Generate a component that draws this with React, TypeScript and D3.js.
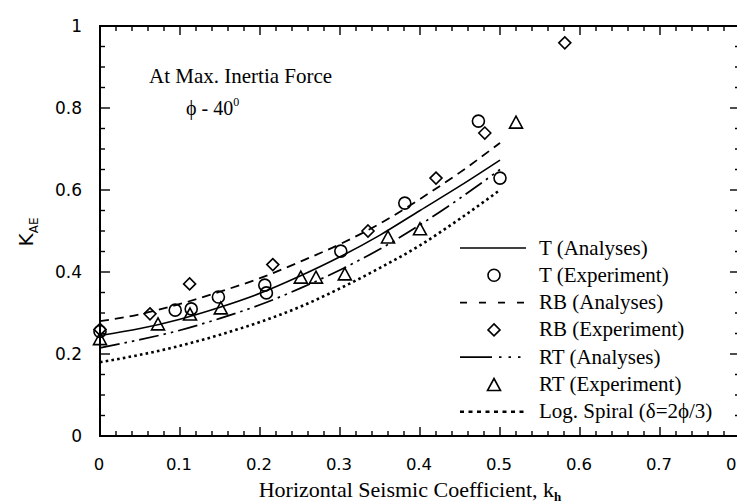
import React from 'react';
import * as d3 from 'd3';

// analysis curves: k_h vs K_AE
const curveKh = [0, 0.05, 0.1, 0.15, 0.2, 0.25, 0.3, 0.35, 0.4, 0.45, 0.5];
const tAnalyses = [0.245, 0.262, 0.285, 0.314, 0.348, 0.39, 0.437, 0.49, 0.55, 0.61, 0.673];
const rbAnalyses = [0.28, 0.297, 0.322, 0.352, 0.385, 0.425, 0.468, 0.518, 0.578, 0.643, 0.715];
const rtAnalyses = [0.215, 0.235, 0.258, 0.287, 0.32, 0.36, 0.405, 0.456, 0.515, 0.58, 0.65];
const logSpiral = [0.18, 0.198, 0.22, 0.247, 0.278, 0.315, 0.36, 0.41, 0.465, 0.53, 0.6];

// experiments
const tExpX = [0, 0.094, 0.114, 0.148, 0.206, 0.208, 0.301, 0.381, 0.473, 0.5];
const tExpY = [0.255, 0.307, 0.31, 0.339, 0.368, 0.349, 0.451, 0.568, 0.768, 0.629];
const rbExpX = [0, 0.0625, 0.112, 0.216, 0.335, 0.42, 0.481, 0.581];
const rbExpY = [0.26, 0.298, 0.371, 0.418, 0.5, 0.629, 0.739, 0.959];
const rtExpX = [0, 0.0725, 0.1125, 0.151, 0.251, 0.27, 0.306, 0.36, 0.4, 0.52];
const rtExpY = [0.235, 0.271, 0.295, 0.31, 0.385, 0.385, 0.393, 0.483, 0.503, 0.763];

const xTicks = [0, 0.1, 0.2, 0.3, 0.4, 0.5, 0.6, 0.7, 0.8];
const yTicks = [0, 0.2, 0.4, 0.6, 0.8, 1];
const legendLabels = [
  'T (Analyses)',
  'T (Experiment)',
  'RB (Analyses)',
  'RB (Experiment)',
  'RT (Analyses)',
  'RT (Experiment)',
  'Log. Spiral  (δ=2ϕ/3)',
];

const serif = '"Liberation Serif", "DejaVu Serif", serif';
const sans = '"DejaVu Sans", "Liberation Sans", sans-serif';

const x = d3.scaleLinear().domain([0, 0.8]).range([92, 732]);
const y = d3.scaleLinear().domain([0, 1]).range([428, 18]);

const curve = d3
  .line<number>()
  .x((_, i) => x(curveKh[i]))
  .y((d) => y(d))
  .curve(d3.curveMonotoneX);

const Circle = ({ cx, cy }: { cx: number; cy: number }) => (
  <circle cx={cx} cy={cy} r={6} fill="none" stroke="#000" strokeWidth={1.6} />
);
const Diamond = ({ cx, cy }: { cx: number; cy: number }) => (
  <path
    d={`M${cx},${cy - 6}L${cx + 6},${cy}L${cx},${cy + 6}L${cx - 6},${cy}Z`}
    fill="none"
    stroke="#000"
    strokeWidth={1.6}
  />
);
const Triangle = ({ cx, cy }: { cx: number; cy: number }) => (
  <path
    d={`M${cx},${cy - 7}L${cx + 6.5},${cy + 5}L${cx - 6.5},${cy + 5}Z`}
    fill="none"
    stroke="#000"
    strokeWidth={1.6}
  />
);

// frame and inward ticks live in their own svg layer
function Frame() {
  const [left, right] = x.range();
  const [bottom, top] = y.range();
  const xMinor = d3.range(0, 41).map((i) => i * 0.02);
  const yMinor = d3.range(0, 21).map((i) => i * 0.05);
  return (
    <svg width={745} height={504} style={{ position: 'absolute', left: 0, top: 0 }}>
      <rect x={left} y={top} width={right - left} height={bottom - top} fill="none" stroke="#000" strokeWidth={2} />
      {xMinor.map((v, i) => {
        const len = i % 5 === 0 ? 9 : 5;
        return (
          <g key={'xt' + i}>
            <line x1={x(v)} x2={x(v)} y1={bottom} y2={bottom - len} stroke="#000" strokeWidth={1.4} />
            <line x1={x(v)} x2={x(v)} y1={top} y2={top + len} stroke="#000" strokeWidth={1.4} />
          </g>
        );
      })}
      {yMinor.map((v, i) => {
        const len = i % 4 === 0 ? 10 : 5;
        return (
          <g key={'yt' + i}>
            <line x1={left} x2={left + len} y1={y(v)} y2={y(v)} stroke="#000" strokeWidth={1.4} />
            <line x1={right} x2={right - len} y1={y(v)} y2={y(v)} stroke="#000" strokeWidth={1.4} />
          </g>
        );
      })}
    </svg>
  );
}

function Plot() {
  const legendTop = 240;
  const legendStep = 27.3;
  const lx0 = 452;
  const lx1 = 518;
  const mx = 486;

  return (
    <svg width={745} height={504} style={{ position: 'absolute', left: 0, top: 0 }}>
      {/* tick labels */}
      {xTicks.map((v) => (
        <text key={'xl' + v} x={x(v) - 1} y={462} textAnchor="middle" fontFamily={sans} fontSize={16.5}>
          {v === 0 ? '0' : d3.format('.1f')(v)}
        </text>
      ))}
      {yTicks.map((v) => (
        <text key={'yl' + v} x={74} y={y(v) + 6} textAnchor="end" fontFamily={sans} fontSize={17}>
          {v === 0 || v === 1 ? String(v) : d3.format('.1f')(v)}
        </text>
      ))}

      {/* axis titles */}
      <text x={402} y={489} textAnchor="middle" fontFamily={serif} fontSize={22}>
        Horizontal Seismic Coefficient, k
        <tspan fontSize={13} dy={4} fontWeight="bold">h</tspan>
      </text>
      <text transform="translate(25,224) rotate(-90)" textAnchor="middle" fontFamily={sans} fontSize={20}>
        K<tspan fontSize={12} dy={5}>AE</tspan>
      </text>

      {/* annotations */}
      <text x={141} y={75} fontFamily={serif} fontSize={21}>At Max. Inertia Force</text>
      <text x={178} y={107} fontFamily={serif} fontSize={20}>
        ϕ - 40<tspan fontSize={12} dy={-9}>0</tspan>
      </text>

      {/* analysis curves */}
      <path d={curve(tAnalyses) || ''} fill="none" stroke="#000" strokeWidth={1.6} />
      <path d={curve(rbAnalyses) || ''} fill="none" stroke="#000" strokeWidth={1.8} strokeDasharray="9,6" />
      <path d={curve(rtAnalyses) || ''} fill="none" stroke="#000" strokeWidth={1.7} strokeDasharray="20,5,2.5,5,2.5,5" />
      <path d={curve(logSpiral) || ''} fill="none" stroke="#000" strokeWidth={2.6} strokeDasharray="2.6,3.2" />

      {/* experiment points */}
      {tExpX.map((v, i) => (
        <Circle key={'c' + i} cx={x(v)} cy={y(tExpY[i])} />
      ))}
      {rbExpX.map((v, i) => (
        <Diamond key={'d' + i} cx={x(v)} cy={y(rbExpY[i])} />
      ))}
      {rtExpX.map((v, i) => (
        <Triangle key={'t' + i} cx={x(v)} cy={y(rtExpY[i])} />
      ))}

      {/* legend */}
      {legendLabels.map((label, i) => {
        const cy = legendTop + i * legendStep;
        let sample: React.ReactNode = null;
        if (i === 0) sample = <line x1={lx0} x2={lx1} y1={cy} y2={cy} stroke="#000" strokeWidth={1.6} />;
        if (i === 1) sample = <Circle cx={mx} cy={cy} />;
        if (i === 2) sample = <line x1={lx0} x2={lx1} y1={cy} y2={cy} stroke="#000" strokeWidth={1.8} strokeDasharray="7,12" />;
        if (i === 3) sample = <Diamond cx={mx} cy={cy} />;
        if (i === 4) sample = <line x1={lx0} x2={lx1} y1={cy} y2={cy} stroke="#000" strokeWidth={1.7} strokeDasharray="32,7,2.5,7,2.5,7,2.5,40" />;
        if (i === 5) sample = <Triangle cx={mx} cy={cy + 1} />;
        if (i === 6) sample = <line x1={lx0} x2={lx1} y1={cy} y2={cy} stroke="#000" strokeWidth={2.6} strokeDasharray="4,4.5" />;
        return (
          <g key={'lg' + i}>
            {sample}
            <text x={531} y={cy + 6.5} fontFamily={serif} fontSize={21}>
              {label}
            </text>
          </g>
        );
      })}
    </svg>
  );
}

export default function App() {
  return (
    <div style={{ position: 'relative', width: 745, height: 504 }}>
      <Frame />
      <Plot />
    </div>
  );
}
